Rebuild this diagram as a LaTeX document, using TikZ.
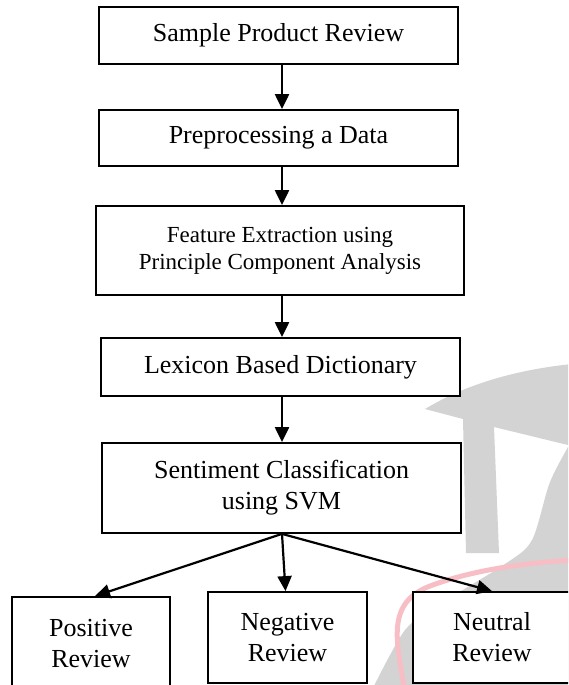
\documentclass[tikz,border=0pt]{standalone}
\usepackage{fontspec}
\setmainfont{Liberation Serif}
\usetikzlibrary{arrows.meta}
\definecolor{wmgray}{RGB}{211,211,211}
\definecolor{wmred}{RGB}{248,190,198}
\begin{document}
\begin{tikzpicture}[x=1pt,y=-1pt,
  box/.style={draw=black, line width=1.8pt, fill=white, align=center, inner sep=0pt,
              font=\fontsize{26}{31}\selectfont},
  smallbox/.style={box, font=\fontsize{23}{27}\selectfont},
  arr/.style={line width=2.2pt, -{Triangle[length=15pt,width=14pt]}}]
\useasboundingbox (0,0) rectangle (568,685);
\clip (0,0) rectangle (568,685);
% watermark
\fill[wmgray] (425,409) .. controls (450,394) and (495,372) .. (572,364)
   -- (572,446) -- (494,427) -- (499,553) -- (466,553) -- (463,419) -- cycle;
\fill[wmgray] plot[smooth] coordinates {(572,440) (550,482) (532,540) (505,564) (440,604) (405,630) (372,690)}
   -- (572,690) -- cycle;
\draw[wmred, line width=5pt] (405,692) .. controls (396,640) and (386,603) .. (430,586)
   .. controls (470,571) and (520,563) .. (575,560);
% boxes
\node[box, minimum width=359pt, minimum height=57pt] (b1) at (278.5,35.5) {Sample Product Review};
\node[box, minimum width=359pt, minimum height=56pt] (b2) at (278.5,138) {Preprocessing a Data};
\node[smallbox, minimum width=368pt, minimum height=89pt] (b3) at (280,250.5) {Feature Extraction using\\Principle Component Analysis};
\node[box, minimum width=359pt, minimum height=58pt] (b4) at (280.5,367) {Lexicon Based Dictionary};
\node[box, minimum width=359pt, minimum height=90pt] (b5) at (281.5,488) {Sentiment Classification\\using SVM};
\node[box, minimum width=158pt, minimum height=93pt] (pos) at (91,643.5) {Positive\\Review};
\node[box, minimum width=159pt, minimum height=91pt] (neg) at (287.5,637.5) {Negative\\Review};
\node[box, minimum width=158pt, minimum height=91pt] (neu) at (492,637.5) {Neutral\\Review};
\coordinate (ax) at (282,0);
% connectors
\draw[arr] (b1.south -| ax) -- (b2.north -| ax);
\draw[arr] (b2.south -| ax) -- (b3.north -| ax);
\draw[arr] (b3.south -| ax) -- (b4.north -| ax);
\draw[arr] (b4.south -| ax) -- (b5.north -| ax);
\draw[arr] (b5.south -| ax) -- ([xshift=4pt]pos.north);
\draw[arr] (b5.south -| ax) -- ([xshift=-2pt]neg.north);
\draw[arr] (b5.south -| ax) -- (neu.north);
\end{tikzpicture}
\end{document}
